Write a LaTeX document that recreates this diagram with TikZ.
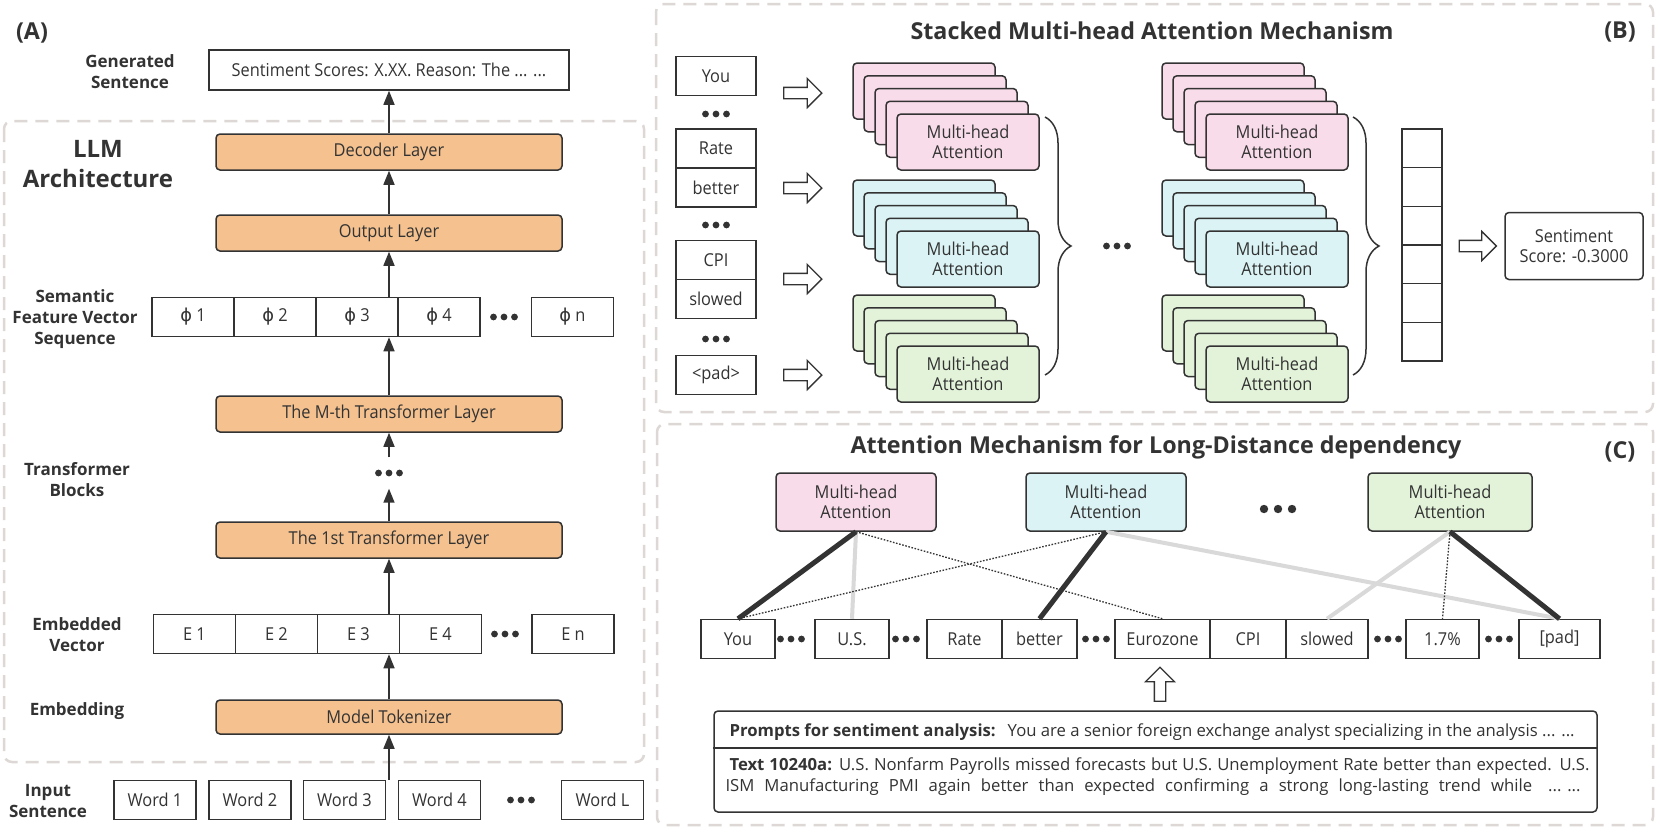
\documentclass[tikz,border=0pt]{standalone}
\usepackage{fontspec}
\setmainfont{Open Sans}[FakeStretch=0.92]
\newfontfamily\headfont{Open Sans}
\newfontfamily\symfont{DejaVu Sans}
\usetikzlibrary{positioning, calc, arrows.meta, shapes.arrows, decorations.pathreplacing}

\definecolor{ink}{HTML}{333333}
\definecolor{layer}{HTML}{F4C18F}
\definecolor{mhpink}{HTML}{F9DCEA}
\definecolor{mhcyan}{HTML}{DBF3F4}
\definecolor{mhgreen}{HTML}{E3F3DA}
\definecolor{frame}{HTML}{DDD8D5}
\definecolor{weak}{HTML}{D9D9D9}

\tikzset{
  txt/.style={font=\fontsize{17.8}{20}\selectfont, text=ink},
  lbl/.style={font=\headfont\bfseries\fontsize{17}{21}\selectfont, text=ink, align=center},
  title/.style={font=\headfont\bfseries\fontsize{23.3}{28}\selectfont, text=ink},
  note/.style={font=\headfont\fontsize{16.7}{21}\selectfont, text=ink, anchor=base west},
  cell/.style={txt, draw=ink, line width=1.5pt, fill=white, minimum width=82pt, minimum height=39pt, inner sep=0pt},
  layerbox/.style={txt, draw=ink, line width=1.5pt, fill=layer, rounded corners=4pt, minimum width=346pt, minimum height=36pt},
  card/.style={txt, draw=ink, line width=1.5pt, rounded corners=4pt, minimum width=142pt, minimum height=56pt, align=center},
  panel/.style={draw=frame, line width=2.5pt, dash pattern=on 13pt off 8pt, rounded corners=8pt},
  flow/.style={draw=ink, line width=1.5pt, -{Triangle[length=14pt,width=11pt]}},
  hollow/.style={single arrow, draw=ink, line width=1.3pt, fill=white, minimum height=38pt, inner sep=5pt, single arrow head extend=9pt},
  ellip/.style={minimum width=36pt, minimum height=10pt, inner sep=0pt,
    path picture={\foreach \i in {-1,0,1} \fill[ink] ($(path picture bounding box.center)+(\i*10.5pt,0)$) circle (3.4pt);}},
  strong/.style={draw=ink, line width=5pt},
  faint/.style={draw=weak, line width=4pt},
  loose/.style={draw=ink, line width=1.3pt, dash pattern=on 1.6pt off 1.6pt},
  cbrace/.style={draw=ink, line width=1.5pt, decorate, decoration={brace, amplitude=26pt}},
}

\begin{document}
\begin{tikzpicture}[x=1pt, y=-1pt]

    \useasboundingbox (0,0) rectangle (1660,831);
    \fill[white] (0,0) rectangle (1660,831);

    % (A) LLM architecture
    \draw[panel] (4,121) rectangle (644,762);
    \node[title] (tagA) at (32,33) {(A)};
    \node[cell, minimum width=360pt, minimum height=40pt] (gen) at (389,70) {Sentiment Scores: X.XX. Reason: The ... ...};
    \node[lbl] (genlbl) at (130,72) {Generated\\Sentence};
    \node[lbl, font=\headfont\bfseries\fontsize{24}{30}\selectfont] (llm) at (98,164) {LLM\\Architecture};
    \node[layerbox] (dec) at (389,152) {Decoder Layer};
    \node[layerbox] (outl) at (389,233) {Output Layer};

    % feature vectors
    \node[lbl] (semlbl) at (75,319) {Semantic\\Feature Vector\\Sequence};
    \node[cell] (p1) at (193,317) {{\symfont ϕ} 1};
    \node[cell, right=-1.5pt of p1] (p2) {{\symfont ϕ} 2};
    \node[cell, right=-1.5pt of p2] (p3) {{\symfont ϕ} 3};
    \node[cell, right=-1.5pt of p3] (p4) {{\symfont ϕ} 4};
    \node[ellip] (pdots) at (504,317) {};
    \node[cell] (pn) at (572.5,317) {{\symfont ϕ} n};

    % transformer blocks
    \node[lbl] (trlbl) at (77,480) {Transformer\\Blocks};
    \node[layerbox] (lm) at (389,414) {The M-th Transformer Layer};
    \node[ellip, minimum height=31pt] (mdots) at (389,473) {};
    \node[layerbox] (l1) at (389,540) {The 1st Transformer Layer};

    % embedded vectors
    \node[lbl] (emblbl) at (77,635) {Embedded\\Vector};
    \node[cell] (e1) at (194.5,634) {E 1};
    \node[cell, right=-1.5pt of e1] (e2) {E 2};
    \node[cell, right=-1.5pt of e2] (e3) {E 3};
    \node[cell, right=-1.5pt of e3] (e4) {E 4};
    \node[ellip] (edots) at (505,634) {};
    \node[cell] (en) at (573,634) {E n};

    \node[lbl] (toklbl) at (77,711) {Embedding};
    \node[layerbox, minimum height=34pt] (tok) at (389,717) {Model Tokenizer};

    % input words
    \node[lbl] (inlbl) at (48,801) {Input\\Sentence};
    \foreach \x [count=\i] in {155,250,344.5,439.5}
        \node[cell] (w\i) at (\x,800) {Word \i};
    \node[ellip] (wdots) at (521,800) {};
    \node[cell] (wl) at (602.5,800) {Word L};

    \draw[flow] (dec.north) -- (gen.south);
    \draw[flow] (outl.north) -- (dec.south);
    \draw[flow] (p3.north -| outl.south) -- (outl.south);
    \draw[flow] (lm.north) -- (p3.south -| lm.north);
    \draw[flow] (mdots.north) -- (lm.south);
    \draw[flow] (l1.north) -- (mdots.south);
    \draw[flow] (e3.north -| l1.south) -- (l1.south);
    \draw[flow] (tok.north) -- (e3.south -| tok.north);
    \draw[flow] (w3.north -| tok.south) -- (tok.south);

    % (B) stacked multi-head attention
    \draw[panel] (656,4) rectangle (1653,412);
    \node[title] (titB) at (1152,31) {Stacked Multi-head Attention Mechanism};
    \node[title] (tagB) at (1620,32) {(B)};

    \node[cell, minimum width=80pt] (tyou) at (716,76) {You};
    \node[ellip] (td1) at (716,114) {};
    \node[cell, minimum width=80pt] (trate) at (716,148.5) {Rate};
    \node[cell, minimum width=80pt, below=-1.5pt of trate] (tbetter) {better};
    \node[ellip] (td2) at (716,225) {};
    \node[cell, minimum width=80pt] (tcpi) at (716,260) {CPI};
    \node[cell, minimum width=80pt, below=-1.5pt of tcpi] (tslowed) {slowed};
    \node[ellip] (td3) at (716,339) {};
    \node[cell, minimum width=80pt] (tpad) at (716,375) {<pad>};

    \foreach \y [count=\i] in {93,188,279,375}
        \node[hollow] (ha\i) at (800,\y) {};

    % card stacks, back to front
    \foreach \cx [count=\i] in {924,1233} {
        \foreach \cy/\col [count=\j] in {91/mhpink,208/mhcyan,323/mhgreen} {
            \foreach \k in {0,...,3}
                \node[card, fill=\col] (mh\i\j\k) at (\cx+\k*11, \cy+\k*12.75) {};
            \node[card, fill=\col] (mh\i\j) at (\cx+44, \cy+51) {Multi-head\\Attention};
        }
    }

    \draw[cbrace] (1045,117) -- (1045,375);
    \node[ellip] (bdots) at (1117,246) {};
    \draw[cbrace] (1353,117) -- (1353,375);

    \foreach \k in {0,...,5}
        \node[cell, minimum width=40pt, minimum height=38.67pt] (v\k) at (1422, 148.3+\k*38.67) {};
    \node[hollow, minimum height=37pt] (hb) at (1475,246) {};
    \node[card, fill=white, minimum width=138pt, minimum height=67pt] (score) at (1574,246) {Sentiment\\Score: -0.3000};

    % (C) long-distance dependency
    \draw[panel] (657,424) rectangle (1653,825);
    \node[title] (titC) at (1156,447) {Attention Mechanism for Long-Distance dependency};
    \node[title] (tagC) at (1620,452) {(C)};

    \node[card, fill=mhpink, minimum width=160pt, minimum height=58pt] (ca) at (856,502) {Multi-head\\Attention};
    \node[card, fill=mhcyan, minimum width=160pt, minimum height=58pt] (cb) at (1106,502) {Multi-head\\Attention};
    \node[ellip, minimum width=42pt, path picture={\foreach \i in {-1,0,1} \fill[ink] ($(path picture bounding box.center)+(\i*14pt,0)$) circle (4.2pt);}] (cdots) at (1278,509) {};
    \node[card, fill=mhgreen, minimum width=164pt, minimum height=58pt] (cc) at (1450,502) {Multi-head\\Attention};

    \node[cell, minimum width=74pt] (wyou) at (738,639) {You};
    \node[ellip] (wd1) at (791,639) {};
    \node[cell, minimum width=74pt] (wus) at (852,639) {U.S.};
    \node[ellip] (wd2) at (906,639) {};
    \node[cell, minimum width=75pt] (wrate) at (964.5,639) {Rate};
    \node[cell, minimum width=75pt, right=-1.5pt of wrate] (wbetter) {better};
    \node[ellip] (wd3) at (1096,639) {};
    \node[cell, minimum width=95pt] (weuro) at (1162.5,639) {Eurozone};
    \node[cell, minimum width=76pt, right=-1.5pt of weuro] (wcpi) {CPI};
    \node[cell, minimum width=82pt, right=-1.5pt of wcpi] (wslow) {slowed};
    \node[ellip] (wd4) at (1388,639) {};
    \node[cell, minimum width=73pt] (wpct) at (1442.5,639) {1.7\%};
    \node[ellip] (wd5) at (1499,639) {};
    \node[cell, minimum width=81pt] (wpad) at (1559.5,639) {[pad]};

    % attention links
    \draw[faint] (ca.south) -- (wus.north);
    \draw[faint] (cb.south) -- (wpad.north);
    \draw[faint] (cc.south) -- (wslow.north);
    \draw[loose] (ca.south) -- (weuro.north);
    \draw[loose] (cb.south) -- (wyou.north);
    \draw[loose] (cc.south) -- (wpct.north);
    \draw[strong] (ca.south) -- (wyou.north);
    \draw[strong] (cb.south) -- (wbetter.north);
    \draw[strong] (cc.south) -- (wpad.north);

    \node[hollow, minimum height=34pt, rotate=90] (hup) at (1160,687) {};

    % prompt text
    \node[draw=ink, line width=1.5pt, rounded corners=4pt, minimum width=883pt, minimum height=101pt] (pbox) at (1155.5,761.5) {};
    \draw[ink, line width=1.5pt] (pbox.west |- 0,748) -- (pbox.east |- 0,748);
    \node[note] (ptxt) at (726,736)
        {\textbf{Prompts for sentiment analysis:}\hspace{12pt}You are a senior foreign exchange analyst specializing in the analysis ... ...};
    \node[note] (ttxt) at (726,770)
        {\makebox[860pt][s]{\textbf{Text 10240a:} U.S. Nonfarm Payrolls missed forecasts but U.S. Unemployment Rate better than expected. U.S.}};
    \node[note] (ttxt2) at (722,791)
        {\makebox[855pt][s]{ISM Manufacturing PMI again better than expected confirming a strong long-lasting trend while\hspace{16pt}\mbox{... ...}}};

\end{tikzpicture}
\end{document}
